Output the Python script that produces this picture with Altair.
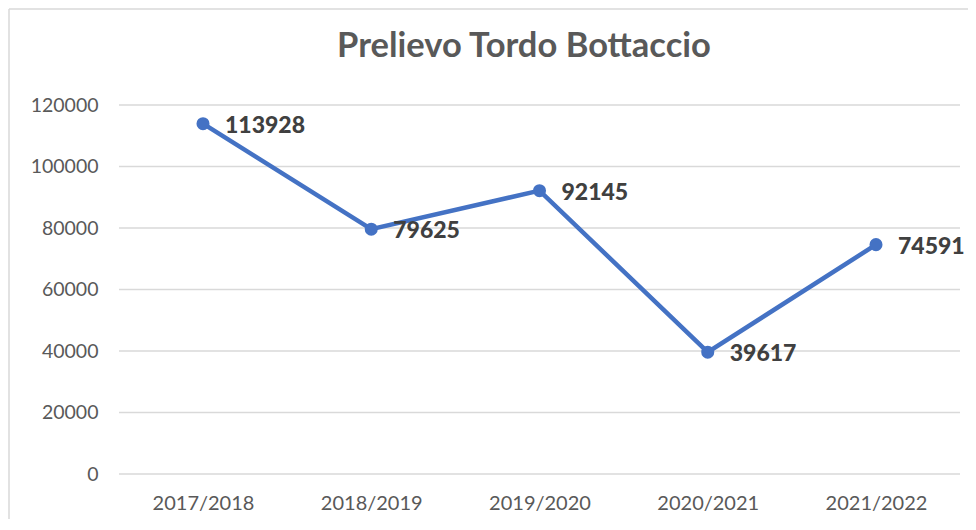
import altair as alt
import pandas as pd

seasons = ["2017/2018", "2018/2019", "2019/2020", "2020/2021", "2021/2022"]
values = [113928, 79625, 92145, 39617, 74591]
y_ticks = [0, 20000, 40000, 60000, 80000, 100000, 120000]
title_text = "Prelievo Tordo Bottaccio"

df = pd.DataFrame({"season": seasons, "value": values})
grid_df = pd.DataFrame({"tick": y_ticks})
one = pd.DataFrame({"a": [0]})

W, H = 841, 369
FONT = "Lato"

x_enc = alt.X("season:N", sort=seasons,
              scale=alt.Scale(type="point", range=[84, 757], padding=0),
              axis=alt.Axis(title=None, labelFontSize=20, labelColor="#595959", labelFont=FONT,
                            domain=False, ticks=False, labelPadding=19, labelAngle=0))
y_scale = alt.Scale(domain=[0, 120000], nice=False)
y_axis = alt.Axis(title=None, values=y_ticks, labelFontSize=19.5, labelColor="#595959",
                  labelFont=FONT, domain=False, ticks=False, grid=False, labelPadding=21,
                  format="d")

grid = alt.Chart(grid_df).mark_rule(color="#d9d9d9", strokeWidth=1.3).encode(
    y=alt.Y("tick:Q", scale=y_scale, axis=y_axis),
    x=alt.value(0), x2=alt.value(W))

y_enc = alt.Y("value:Q", scale=y_scale, axis=y_axis)

line = alt.Chart(df).mark_line(color="#4472C4", strokeWidth=4.5).encode(x=x_enc, y=y_enc)
pts = alt.Chart(df).mark_point(filled=True, color="#4472C4", size=170, opacity=1).encode(x=x_enc, y=y_enc)
labels = alt.Chart(df).mark_text(align="left", baseline="middle", dx=22, dy=2, fontSize=23,
                                 fontWeight=900, color="#404040", font=FONT).encode(
    x=x_enc, y=y_enc, text=alt.Text("value:Q", format="d"))

title = alt.Chart(one).mark_text(fontSize=34.5, fontWeight="bold", color="#595959", font=FONT,
                                 align="center", baseline="middle").encode(
    x=alt.value(405), y=alt.value(-58), text=alt.value(title_text))

border_left = alt.Chart(one).mark_rule(color="#d9d9d9", strokeWidth=1.5).encode(
    x=alt.value(-110), y=alt.value(-96), y2=alt.value(415))
border_top = alt.Chart(one).mark_rule(color="#d9d9d9", strokeWidth=1.5).encode(
    y=alt.value(-96), x=alt.value(-110), x2=alt.value(W + 8))

chart = alt.layer(grid, border_left, border_top, line, pts, labels, title).properties(
    width=W, height=H,
    autosize=alt.AutoSizeParams(type="none"),
    padding={"left": 111, "top": 97, "right": 8, "bottom": 45},
    background="white",
).configure_view(stroke=None)

chart.save("out.html", embed_options={"renderer": "svg", "actions": False})
